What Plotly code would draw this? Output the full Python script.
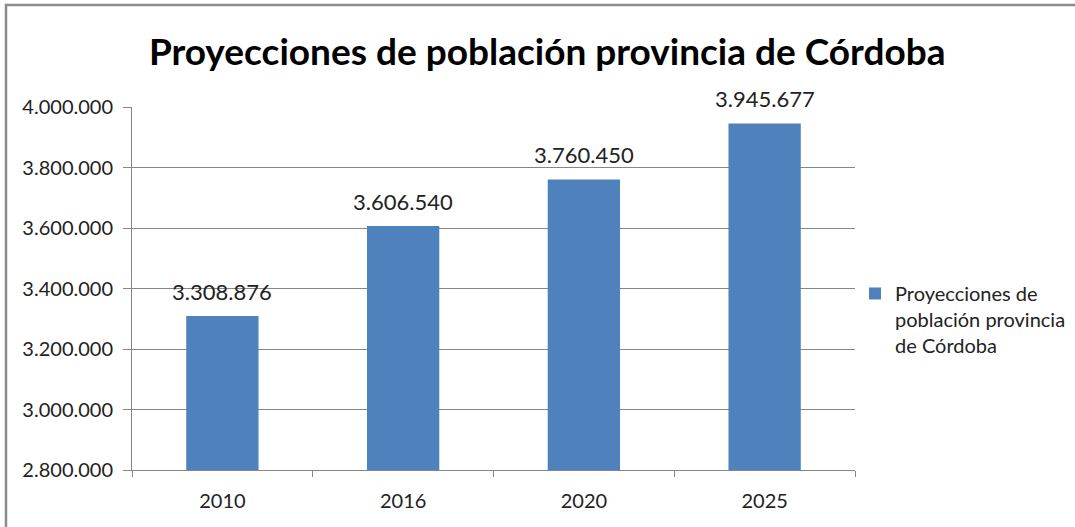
import plotly.graph_objects as go

years = ["2010", "2016", "2020", "2025"]
population = [3308876, 3606540, 3760450, 3945677]
series_name = "Proyecciones de<br>población provincia<br>de Córdoba"
title_text = "Proyecciones de población provincia de Córdoba"

FONT = "Lato"
BAR_COLOR = "#4F81BD"
GRID = "#868686"
TEXT = "#222222"


def es_thousands(v):
    # 3308876 -> "3.308.876"
    return f"{v:,}".replace(",", ".")


fig = go.Figure()
fig.add_trace(go.Bar(
    x=years,
    y=population,
    name=series_name,
    marker=dict(color=BAR_COLOR, line=dict(width=0)),
    showlegend=True,
))

# value labels above each bar (x given as the category's serial index)
labels = [
    dict(
        x=i, y=val, xref="x", yref="y",
        text=es_thousands(val),
        showarrow=False,
        yanchor="bottom", yshift=9,
        font=dict(family=FONT, size=22, color=TEXT),
    )
    for i, val in enumerate(population)
]

fig.update_layout(
    width=1075,
    height=527,
    margin=dict(l=132, r=220, t=107, b=57, autoexpand=False),
    paper_bgcolor="white",
    plot_bgcolor="white",
    separators=",.",
    bargap=0.6,
    annotations=labels,
    title=dict(
        text="<b>" + title_text + "</b>",
        x=0.509, xanchor="center",
        y=1 - 52 / 527, yanchor="middle",
        font=dict(family=FONT, size=37, color="black"),
    ),
    legend=dict(
        x=1.0, xanchor="left",
        y=0.54, yanchor="top",
        valign="top",
        font=dict(family=FONT, size=20, color=TEXT),
        bgcolor="rgba(0,0,0,0)",
        tracegroupgap=0,
    ),
    xaxis=dict(
        type="category",
        range=[-0.5, len(years) - 0.5],
        showline=True, linecolor=GRID, linewidth=1,
        ticks="outside", tickson="boundaries", ticklen=6, tickcolor=GRID,
        ticklabelstandoff=13,
        tickangle=0,
        showgrid=False,
        tickfont=dict(family=FONT, size=20, color=TEXT),
    ),
    yaxis=dict(
        range=[2800000, 4000000],
        dtick=200000,
        tickformat=",d",
        showline=True, linecolor=GRID, linewidth=1,
        ticks="outside", ticklen=8, tickcolor=GRID,
        ticklabelstandoff=6,
        showgrid=True, gridcolor=GRID, gridwidth=1,
        zeroline=False,
        tickfont=dict(family=FONT, size=20, color=TEXT),
    ),
    shapes=[dict(
        type="rect", xref="paper", yref="paper",
        x0=-126 / 723, x1=1.5, y0=-0.5, y1=1 + 102 / 363,
        line=dict(color="#8C8C8C", width=2.5),
        fillcolor="rgba(0,0,0,0)",
        layer="below",
    )],
)

fig.write_html("out.html")
